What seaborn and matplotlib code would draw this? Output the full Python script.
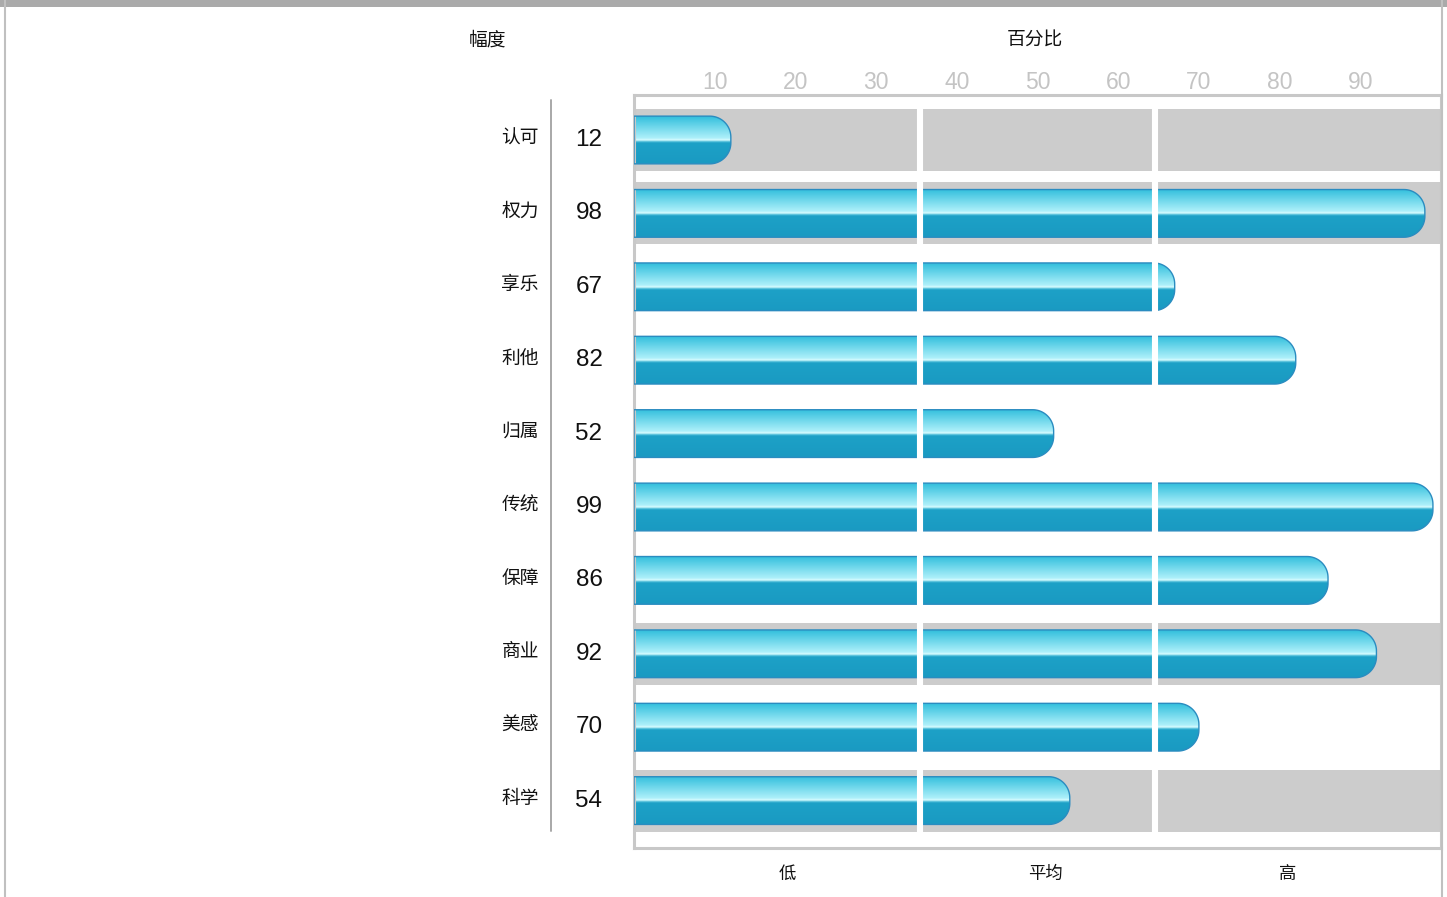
import numpy as np
import pandas as pd
import matplotlib
matplotlib.use("Agg")
import matplotlib.pyplot as plt
import seaborn as sns
from matplotlib.patches import Polygon, Rectangle
from matplotlib.lines import Line2D
from matplotlib.transforms import blended_transform_factory

categories = ['认可', '权力', '享乐', '利他', '归属', '传统', '保障', '商业', '美感', '科学']
values = [12, 98, 67, 82, 52, 99, 86, 92, 70, 54]
shaded = [True, True, False, False, False, False, False, True, False, True]
x_ticks = [10, 20, 30, 40, 50, 60, 70, 80, 90]
band_edges = [35.4, 64.6]
band_labels = ['低', '平均', '高']
band_label_pos = [19, 51, 81]
left_header = '幅度'
top_header = '百分比'

sns.set_theme(style='white')
plt.rcParams['font.family'] = ['Noto Sans CJK SC', 'DejaVu Sans']

df = pd.DataFrame({'category': categories, 'value': values})

W, H = 1447, 897
fig = plt.figure(figsize=(W / 100, H / 100), dpi=100)
ax = fig.add_axes([634 / W, 1 - 848 / H, (1441 - 634) / W, (848 - 95) / H])

sns.barplot(data=df, x='value', y='category', orient='h', width=0.65, color='#1c9fc6', ax=ax)
bars = list(ax.patches)
for p in bars:
    p.set_visible(False)

XLIM = (0, 100)
YLIM = (9.646, -0.613)
ax.set_xlim(*XLIM)
ax.set_ylim(*YLIM)

# gray row bands
band_half = 0.422
for i, s in enumerate(shaded):
    if s:
        ax.axhspan(i - band_half, i + band_half, color='#cccccc', lw=0, zorder=1)

# glossy gradient for the bars
stops = [0.0, 0.04, 0.46, 0.50, 0.53, 0.56, 1.0]
cols = ['#34b8d8', '#3cc3df', '#aef0fa', '#dcfdff', '#5cc4de', '#1da1c7', '#1a9ac2']
rgb = np.array([matplotlib.colors.to_rgb(c) for c in cols])
t = np.linspace(0, 1, 300)
grad = np.stack([np.interp(t, stops, rgb[:, k]) for k in range(3)], axis=1)[:, None, :]

o = ax.transData.transform((0, 0))
sx = ax.transData.transform((1, 0))[0] - o[0]
sy = abs(ax.transData.transform((0, 1))[1] - o[1])
r_px = 21

for p in bars:
    x0, y, w, h = p.get_x(), p.get_y(), p.get_width(), p.get_height()
    x1 = x0 + w
    rx = r_px / sx
    ry = min(r_px / sy, h / 2)
    a1 = np.linspace(np.pi / 2, 0, 24)
    a2 = np.linspace(0, -np.pi / 2, 24)
    c1 = np.column_stack([x1 - rx + rx * np.cos(a1), y + ry - ry * np.sin(a1)])
    c2 = np.column_stack([x1 - rx + rx * np.cos(a2), y + h - ry - ry * np.sin(a2)])
    pts = np.vstack([[x0, y], c1, c2, [x0, y + h]])
    poly = Polygon(pts, closed=True, facecolor='none', edgecolor='#2a8cc0', lw=1.0, zorder=3)
    ax.add_patch(poly)
    im = ax.imshow(grad, extent=(x0, x1, y + h, y), origin='upper', aspect='auto',
                   interpolation='bilinear', zorder=2.5)
    im.set_clip_path(poly)

# white separators between low / average / high
ax.vlines(band_edges, -band_half, len(categories) - 1 + band_half, color='white', lw=4.4, zorder=4)

ax.set_xlim(*XLIM)
ax.set_ylim(*YLIM)

ax.xaxis.tick_top()
ax.set_xticks(x_ticks)
ax.set_xticklabels([str(v) for v in x_ticks], color='#c4c4c4', fontsize=16.5,
                   family=['Liberation Sans', 'DejaVu Sans'])
ax.tick_params(axis='x', length=0, pad=1)
ax.set_yticks([])
ax.set_xlabel('')
ax.set_ylabel('')
for sp in ax.spines.values():
    sp.set_color('#c8c8c8')
    sp.set_linewidth(2.2)

# row labels and values
tr_y = blended_transform_factory(fig.transFigure, ax.transData)
for i, (c, v) in enumerate(zip(categories, values)):
    ax.text(539 / W, i - 0.03, c, transform=tr_y, ha='right', va='center', fontsize=13.5,
            fontweight='medium', color='#111111')
    ax.text(589 / W, i, str(v), transform=tr_y, ha='center', va='center', fontsize=17.5,
            color='#111111', family=['Liberation Sans', 'DejaVu Sans'])

# band labels below
tr_x = blended_transform_factory(ax.transData, fig.transFigure)
for xpos, lab in zip(band_label_pos, band_labels):
    ax.text(xpos, 1 - 874 / H, lab, transform=tr_x, ha='center', va='center',
            fontsize=12.5, fontweight='medium', color='#111111')

fig.text(487 / W, 1 - 40 / H, left_header, ha='center', va='center', fontsize=13.5,
         fontweight='medium', color='#111111')
fig.text(1035 / W, 1 - 40 / H, top_header, ha='center', va='center', fontsize=13.5,
         fontweight='medium', color='#111111')

# divider between labels and values
fig.add_artist(Line2D([551 / W, 551 / W], [1 - 100 / H, 1 - 831 / H], color='#a8a8a8', lw=1.4))

# outer frame
fig.add_artist(Rectangle((0, 1 - 7 / H), 1, 7 / H, transform=fig.transFigure,
                         facecolor='#aaaaaa', edgecolor='none'))
fig.add_artist(Line2D([5 / W, 5 / W], [0, 1], color='#c0c0c0', lw=1.5))
fig.add_artist(Line2D([1442 / W, 1442 / W], [0, 1], color='#c0c0c0', lw=1.5))

fig.savefig('out.png', dpi=100)
plt.close(fig)
